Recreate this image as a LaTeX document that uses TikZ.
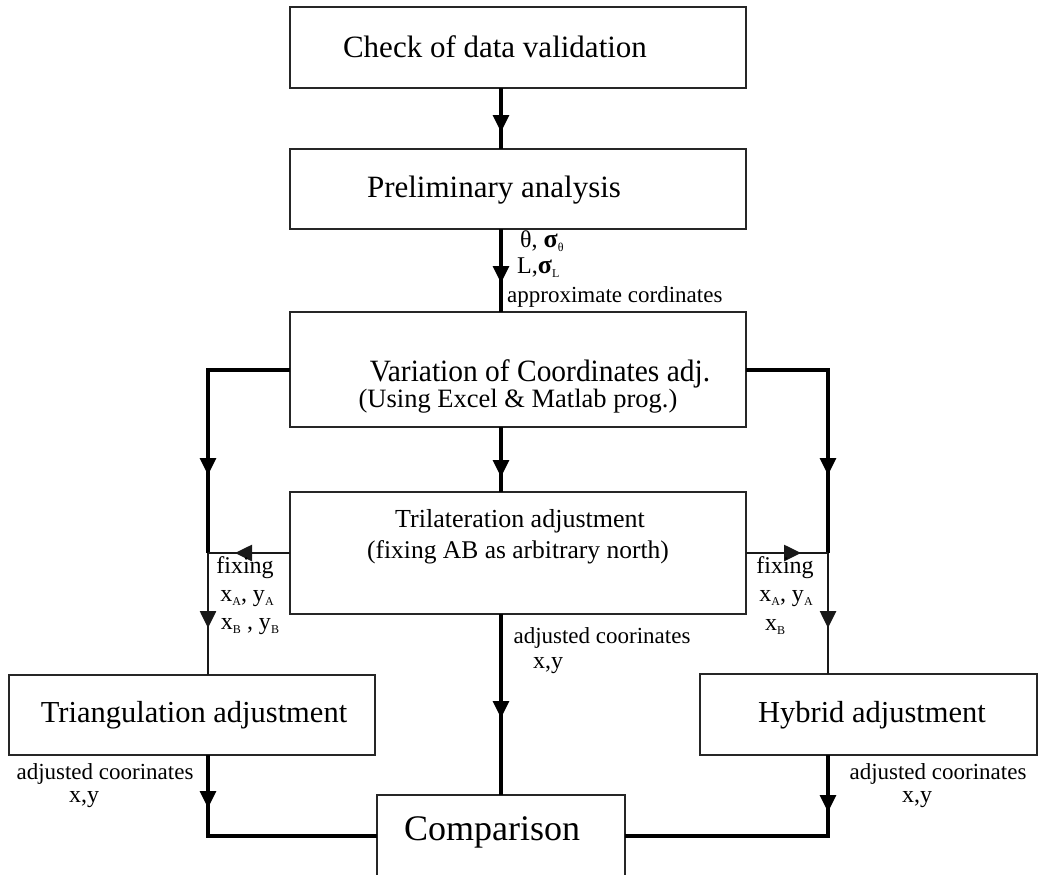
\documentclass[tikz,border=0pt]{standalone}
\usepackage{fontspec}
\setmainfont{Liberation Serif}
\usetikzlibrary{arrows.meta,decorations.markings}
\newcommand\fsz[1]{\fontsize{#1}{#1}\selectfont}
\newcommand\sbs[1]{\raisebox{-4pt}{\fontsize{12}{12}\selectfont #1}}
\newcommand\bsig{{\fontsize{26}{26}\selectfont\bfseries σ}}
\begin{document}
\begin{tikzpicture}[x=1pt,y=-1pt,
  box/.style={draw=black!85, line width=2.4pt, inner sep=0pt, outer sep=0pt},
  conn/.style={line width=3.2pt, draw=black, line join=miter},
  connb/.style={line width=2.6pt, draw=black!90, line join=miter},
  midarr/.style={postaction={decorate}, decoration={markings, mark=at position #1 with {\arrow{Triangle[length=17pt,width=16pt]}}}},
  big/.style={inner sep=0pt, font=\fsz{31}},
  mid/.style={inner sep=0pt, font=\fsz{26}},
  lab/.style={inner sep=0pt, font=\fsz{23}}
]
\useasboundingbox (0,0) rectangle (1039,875);

% boxes
\node[box, minimum width=456pt, minimum height=81pt] (b1) at (518,47.5) {};
\node[box, minimum width=456pt, minimum height=80pt] (b2) at (518,189) {};
\node[box, minimum width=456pt, minimum height=115pt] (b3) at (518,369.5) {};
\node[box, minimum width=456pt, minimum height=122pt] (b4) at (518,553) {};
\node[box, minimum width=366pt, minimum height=80pt] (tri) at (192,715) {};
\node[box, minimum width=337pt, minimum height=81pt] (hyb) at (868.5,714.5) {};
\node[box, minimum width=248pt, minimum height=81pt] (cmp) at (501,835.5) {};

% box texts
\node[big] (t1) at (495,47) {Check of data validation};
\node[big] (t2) at (494,190) {Preliminary analysis};
\node[inner sep=0pt, font=\fsz{31}, xscale=0.95] (t3a) at (540,374) {Variation of Coordinates adj.};
\node[mid, font=\fsz{26.5}] (t3b) at (518,401) {(Using Excel \& Matlab prog.)};
\node[inner sep=0pt, font=\fsz{26}] (t4a) at (520,521) {Trilateration adjustment};
\node[inner sep=0pt, font=\fsz{25.5}] (t4b) at (518,552) {(fixing AB as arbitrary north)};
\node[big, font=\fsz{30.5}] (ttri) at (194,715) {Triangulation adjustment};
\node[big, font=\fsz{30.5}] (thyb) at (872,715) {Hybrid adjustment};
\node[inner sep=0pt, font=\fsz{36}] (tcmp) at (492,832) {Comparison};

% helper coordinates
\coordinate (ax) at (501,0);
\coordinate (sl3) at (0,370);
\coordinate (lc) at (208,370);
\coordinate (lj) at (208,553);
\coordinate (rc) at (828,370);
\coordinate (rj) at (828,553);
\coordinate (lb) at (208,836);
\coordinate (rb) at (828,836);

% connectors
\draw[conn, midarr=44pt] (b1.south -| ax) -- (b2.north -| ax);
\draw[conn, midarr=54pt] (b2.south -| ax) -- (b3.north -| ax);
\draw[conn, midarr=187pt] (b3.west |- sl3) -- (lc) -- (lj);
\draw[conn, midarr=187pt] (b3.east |- sl3) -- (rc) -- (rj);
\draw[conn, midarr=50pt] (b3.south -| ax) -- (b4.north -| ax);
\draw[connb, midarr=55pt] (b4.west) -- (lj);
\draw[connb, midarr=55pt] (b4.east) -- (rj);
\draw[connb, midarr=75pt] (lj) -- (tri.north -| lj);
\draw[connb, midarr=75pt] (rj) -- (hyb.north -| rj);
\draw[conn, midarr=104pt] (b4.south -| ax) -- (cmp.north -| ax);
\draw[conn, midarr=53pt] (tri.south -| lj) -- (lb) -- (cmp.west |- lb);
\draw[conn, midarr=57pt] (hyb.south -| rj) -- (rb) -- (cmp.east |- rb);

% labels
\node[lab, anchor=west, font=\fsz{24}] (lth) at (520,241) {θ, \bsig\sbs{θ}};
\node[lab, anchor=west, font=\fsz{24}] (lL) at (517,268) {L,\bsig\sbs{L}};
\node[lab, anchor=west] (lap) at (507,297) {approximate cordinates};

\node[lab, font=\fsz{24}] (fxl) at (245,568) {fixing};
\node[lab, font=\fsz{24}] (xal) at (247,599) {x\sbs{A}, y\sbs{A}};
\node[lab, font=\fsz{24}] (xbl) at (250,627) {x\sbs{B} , y\sbs{B}};
\node[lab, font=\fsz{24}] (fxr) at (785,568) {fixing};
\node[lab, font=\fsz{24}] (xar) at (786,599) {x\sbs{A}, y\sbs{A}};
\node[lab, font=\fsz{24}] (xbr) at (775,627) {x\sbs{B}};

\node[lab] (adm) at (602,638) {adjusted coorinates};
\node[lab, font=\fsz{24}] (xym) at (548,666) {x,y};
\node[lab] (adl) at (105,774) {adjusted coorinates};
\node[lab, font=\fsz{24}] (xyl) at (84,800) {x,y};
\node[lab] (adr) at (938,774) {adjusted coorinates};
\node[lab, font=\fsz{24}] (xyr) at (917,800) {x,y};
\end{tikzpicture}
\end{document}
